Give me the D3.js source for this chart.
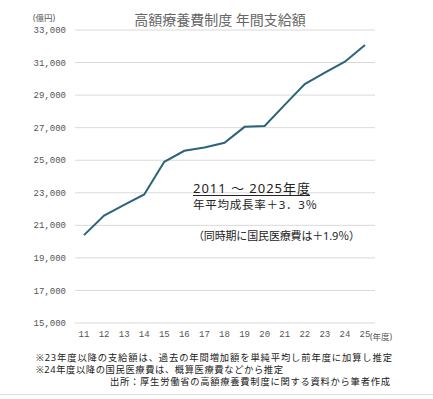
<!DOCTYPE html>
<html>
<head>
<meta charset="utf-8">
<script src="https://cdn.jsdelivr.net/npm/d3@7"></script>
<style>
  body { margin: 0; background: #fff; }
  text { font-family: "Noto Sans", "Noto Sans CJK JP", sans-serif; }
</style>
</head>
<body>
<div id="chart"></div>
<script>
const years = ["11", "12", "13", "14", "15", "16", "17", "18", "19", "20", "21", "22", "23", "24", "25"];
const amounts = [20400, 21600, 22250, 22900, 24900, 25580, 25780, 26070, 27050, 27100, 28400, 29680, 30380, 31050, 32080];
const yTicks = [15000, 17000, 19000, 21000, 23000, 25000, 27000, 29000, 31000, 33000];
const notes = [
    "※23年度以降の支給額は、過去の年間増加額を単純平均し前年度に加算し推定",
    "※24年度以降の国民医療費は、概算医療費などから推定"
];
const source = "出所：厚生労働省の高額療養費制度に関する資料から筆者作成";

const width = 433, height = 399;
const margin = {top: 30, right: 58, bottom: 76, left: 75};

const svg = d3.select("#chart").append("svg")
    .attr("width", width)
    .attr("height", height);

const x = d3.scalePoint()
    .domain(years)
    .range([84, 365]);

const y = d3.scaleLinear()
    .domain([15000, 33000])
    .range([height - margin.bottom, margin.top]);

// grid lines
svg.append("g")
    .selectAll("line")
    .data(yTicks)
    .enter().append("line")
    .attr("x1", margin.left)
    .attr("x2", width - margin.right)
    .attr("y1", d => y(d))
    .attr("y2", d => y(d))
    .attr("stroke", "#d9d9d9")
    .attr("stroke-width", 1);

// y labels
svg.append("g")
    .selectAll("text")
    .data(yTicks)
    .enter().append("text")
    .attr("x", 66)
    .attr("y", d => y(d))
    .attr("dy", "0.35em")
    .style("text-anchor", "end")
    .style("font-family", "'Liberation Mono', monospace")
    .style("font-size", "9px")
    .style("fill", "#555")
    .text(d => d3.format(",")(d));

// x labels
svg.append("g")
    .selectAll("text")
    .data(years)
    .enter().append("text")
    .attr("x", d => x(d))
    .attr("y", 337)
    .style("text-anchor", "middle")
    .style("font-family", "'Liberation Mono', monospace")
    .style("font-size", "9px")
    .style("fill", "#555")
    .text(d => d);

svg.append("text")
    .attr("x", 370)
    .attr("y", 340)
    .style("font-size", "8.5px")
    .style("fill", "#555")
    .text("(年度)");

svg.append("text")
    .attr("x", 33)
    .attr("y", 21)
    .style("font-size", "8.5px")
    .style("fill", "#555")
    .text("(億円)");

// title
svg.append("text")
    .attr("x", 220)
    .attr("y", 25)
    .style("text-anchor", "middle")
    .style("font-size", "14px")
    .style("fill", "#666")
    .text("高額療養費制度 年間支給額");

// line
const line = d3.line()
    .x((d, i) => x(years[i]))
    .y(d => y(d));

svg.append("path")
    .datum(amounts)
    .attr("fill", "none")
    .attr("stroke", "#2a6479")
    .attr("stroke-width", 2)
    .attr("d", line);

// annotation
svg.append("text")
    .attr("x", 193)
    .attr("y", 193)
    .attr("textLength", 117)
    .attr("lengthAdjust", "spacing")
    .style("font-size", "13px")
    .style("fill", "#222")
    .text("2011 ～ 2025年度");

svg.append("line")
    .attr("x1", 193).attr("x2", 310)
    .attr("y1", 195.5).attr("y2", 195.5)
    .attr("stroke", "#222")
    .attr("stroke-width", 1);

svg.append("text")
    .attr("x", 193)
    .attr("y", 209)
    .attr("textLength", 124)
    .attr("lengthAdjust", "spacing")
    .style("font-size", "11.5px")
    .style("fill", "#222")
    .text("年平均成長率＋3．3％");

svg.append("text")
    .attr("x", 193)
    .attr("y", 240)
    .attr("textLength", 167)
    .attr("lengthAdjust", "spacing")
    .style("font-size", "11px")
    .style("fill", "#222")
    .text("（同時期に国民医療費は＋1.9％）");

// footnotes
const noteWidths = [356, 247];
svg.append("g")
    .selectAll("text")
    .data(notes)
    .enter().append("text")
    .attr("x", 36)
    .attr("y", (d, i) => 361 + i * 12)
    .attr("textLength", (d, i) => noteWidths[i])
    .attr("lengthAdjust", "spacing")
    .style("font-size", "9.3px")
    .style("fill", "#222")
    .text(d => d);

svg.append("text")
    .attr("x", 110)
    .attr("y", 385)
    .attr("textLength", 280)
    .attr("lengthAdjust", "spacing")
    .style("font-size", "9.3px")
    .style("fill", "#222")
    .text(source);

svg.append("line")
    .attr("x1", 0).attr("x2", width)
    .attr("y1", 394.5).attr("y2", 394.5)
    .attr("stroke", "#ddd")
    .attr("stroke-width", 1);
</script>
</body>
</html>
